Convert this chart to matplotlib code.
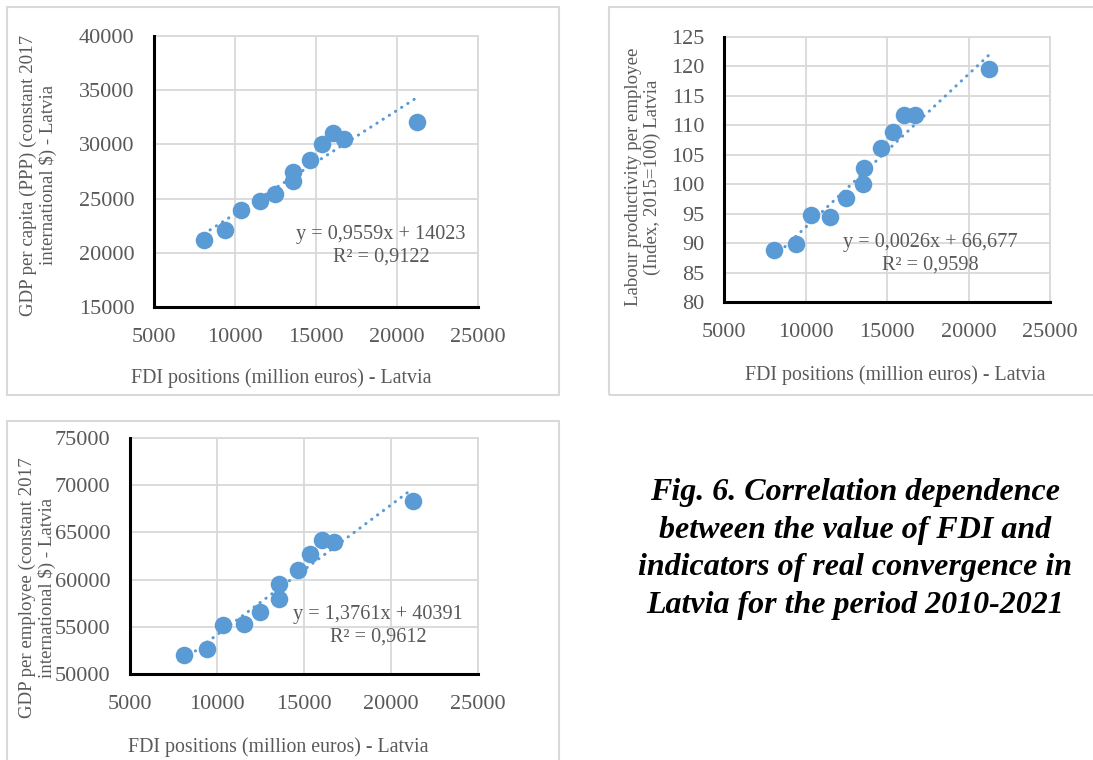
import numpy as np
import matplotlib
matplotlib.use("Agg")
import matplotlib.pyplot as plt
from matplotlib.patches import Rectangle

# FDI positions (million euros) - Latvia, 2010-2021
fdi = [8080, 9400, 10340, 11530, 12460, 13550, 13590, 14640, 15340, 16020, 16730, 21250]

gdp_per_capita = [21150, 22070, 23910, 24740, 25390, 26650, 27500, 28580, 30030, 31040, 30490, 32050]
labour_prod = [88.9, 89.9, 94.8, 94.5, 97.6, 100.0, 102.7, 106.1, 108.8, 111.7, 111.7, 119.6]
gdp_per_employee = [52050, 52680, 55220, 55300, 56530, 57900, 59530, 61050, 62710, 64230, 63980, 68330]

# trendline coefficients (slope, intercept) and R^2 as printed on the charts
trend1 = (0.9559, 14023, "y = 0,9559x + 14023", "R² = 0,9122")
trend2 = (0.0026, 66.677, "y = 0,0026x + 66,677", "R² = 0,9598")
trend3 = (1.3761, 40391, "y = 1,3761x + 40391", "R² = 0,9612")

xlabel = "FDI positions (million euros) - Latvia"
ylabel1 = "GDP per capita (PPP) (constant 2017\ninternational $) - Latvia"
ylabel2 = "Labour productivity per employee\n(Index, 2015=100) Latvia"
ylabel3 = "GDP per employee (constant 2017\ninternational $) - Latvia"
caption = ("Fig. 6. Correlation dependence\nbetween the value of FDI and\n"
           "indicators of real convergence in\nLatvia for the period 2010-2021")

W, H = 1093, 760
BLUE = "#5B9BD5"
GRID = "#D9D9D9"
TXT = "#595959"
plt.rcParams['font.family'] = ['Liberation Serif', 'DejaVu Serif']

fig = plt.figure(figsize=(W / 100, H / 100), dpi=100)


def fx(x):
    return x / W


def fy(y):
    return 1 - y / H


def frame(x0, y0, x1, y1):
    fig.patches.append(Rectangle((fx(x0), fy(y1)), fx(x1) - fx(x0), fy(y0) - fy(y1),
                                 transform=fig.transFigure, fill=False,
                                 edgecolor=GRID, linewidth=1.5))


def chart(box, yvals, ylim, ystep, trend, ylab, ylab_xy, xlab_xy, eq_xy):
    left, top, right, bottom = box
    ax = fig.add_axes([fx(left), fy(bottom), fx(right) - fx(left), fy(top) - fy(bottom)])
    ax.scatter(fdi, yvals, s=160, color=BLUE, zorder=3, linewidths=0)
    xs = np.array([min(fdi), max(fdi)])
    ax.plot(xs, trend[0] * xs + trend[1], color=BLUE, lw=2.2,
            linestyle=(0, (0.1, 2.3)), dash_capstyle='round', zorder=2)
    ax.set_xlim(5000, 25000)
    ax.set_xticks(range(5000, 25001, 5000))
    ax.set_ylim(*ylim)
    ax.set_yticks(np.arange(ylim[0], ylim[1] + ystep / 2, ystep))
    ax.grid(color=GRID, lw=1.3)
    ax.set_axisbelow(True)
    for s in ("top", "right"):
        ax.spines[s].set_color(GRID)
        ax.spines[s].set_linewidth(1.3)
    for s in ("left", "bottom"):
        ax.spines[s].set_color("black")
        ax.spines[s].set_linewidth(2.2)
        ax.spines[s].set_zorder(4)
    ax.tick_params(length=0, labelsize=16, labelcolor=TXT, pad=14)
    ax.tick_params(axis="x", pad=15)
    fig.text(fx(ylab_xy[0]), fy(ylab_xy[1]), ylab, rotation=90, ha="center", va="center",
             fontsize=13.6, color=TXT, linespacing=1.15)
    fig.text(fx(xlab_xy[0]), fy(xlab_xy[1]), xlabel, ha="center", va="center",
             fontsize=14.3, color=TXT)
    fig.text(fx(eq_xy[0]), fy(eq_xy[1]), trend[2] + "\n" + trend[3], ha="center", va="center",
             fontsize=14.6, color=TXT, linespacing=1.25)
    return ax


frame(7, 7, 559, 395)
frame(609, 7, 1100, 395)
frame(7, 421, 559, 770)

chart((154, 36, 478, 307), gdp_per_capita, (15000, 40000), 5000, trend1,
      ylabel1, (38, 175), (281, 378), (381, 246))
chart((724, 37, 1050, 302), labour_prod, (80, 125), 5, trend2,
      ylabel2, (643, 177), (895, 375), (930, 254))
chart((130, 438, 478, 674), gdp_per_employee, (50000, 75000), 5000, trend3,
      ylabel3, (37, 588), (278, 747), (378, 626))

fig.text(fx(855), fy(549), caption, ha="center", va="center", fontsize=23,
         fontweight="bold", fontstyle="italic", color="black", linespacing=1.38)

fig.savefig("out.png", dpi=100)
